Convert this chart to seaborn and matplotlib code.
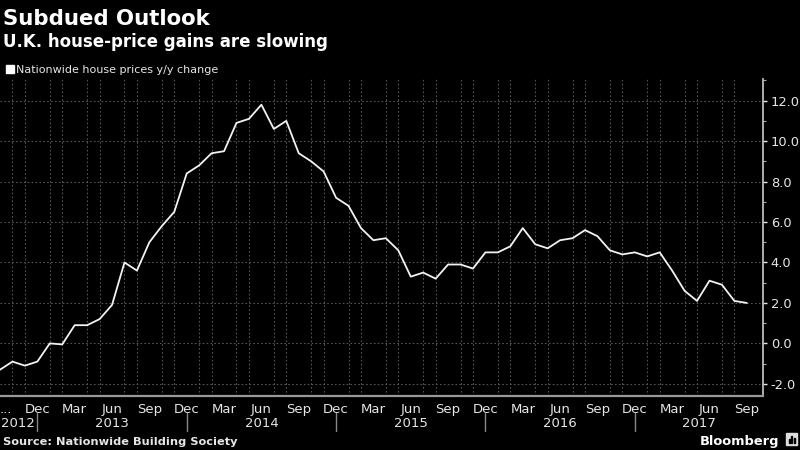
import numpy as np
import pandas as pd
import matplotlib
matplotlib.use("Agg")
import matplotlib.pyplot as plt
import matplotlib.transforms as mtransforms
from matplotlib.patches import Rectangle
import seaborn as sns

# Nationwide house prices, y/y % change, Sep 2012 .. Sep 2017
yoy_change = [
    -1.3, -0.9, -1.1, -0.9,                                            # 2012 Sep-Dec
    0.0, -0.05, 0.9, 0.9, 1.2, 1.9, 4.0, 3.6, 5.0, 5.8, 6.5, 8.4,      # 2013
    8.8, 9.4, 9.5, 10.9, 11.1, 11.8, 10.6, 11.0, 9.4, 9.0, 8.5, 7.2,   # 2014
    6.8, 5.7, 5.1, 5.2, 4.6, 3.3, 3.5, 3.2, 3.9, 3.9, 3.7, 4.5,        # 2015
    4.5, 4.8, 5.7, 4.9, 4.7, 5.1, 5.2, 5.6, 5.3, 4.6, 4.4, 4.5,        # 2016
    4.3, 4.5, 3.6, 2.6, 2.1, 3.1, 2.9, 2.1, 2.0,                       # 2017 Jan-Sep
]
month_labels = ["..."] + ["Dec", "Mar", "Jun", "Sep"] * 5
year_labels = ["2012", "2013", "2014", "2015", "2016", "2017"]

df = pd.DataFrame({"month": np.arange(len(yoy_change)), "value": yoy_change})

sns.set_style("dark")
plt.rcParams["font.family"] = ["DejaVu Sans"]

bg = "black"
fg = "#e6e6e6"
grid_c = "#555555"

fig = plt.figure(figsize=(8, 4.5), dpi=100, facecolor=bg)
ax = fig.add_axes([0.0, 1 - 396 / 450, 763 / 800, (396 - 79) / 450])
ax.set_facecolor(bg)

sns.lineplot(data=df, x="month", y="value", ax=ax, color="#f2f2f2", linewidth=1.3)

xmax = 61.3
ax.set_xlim(0, xmax)
ax.set_ylim(-2.6, 13.07)

# y axis on right
ax.yaxis.tick_right()
ax.set_yticks(np.arange(-2, 13, 2))
ax.set_yticklabels([f"{v:.1f}" for v in np.arange(-2, 13, 2)])
ax.set_yticks(np.arange(-2, 14, 1), minor=True)
ax.tick_params(axis="y", which="major", colors=fg, labelcolor=fg, labelsize=9.4,
               length=3, width=1, pad=2.5, direction="out")
ax.tick_params(axis="y", which="minor", colors="#aaaaaa", length=2, width=0.8)

# x axis ticks: every month, labels every 3 months
ax.set_xticks(np.arange(0, len(yoy_change), 3))
ax.set_xticklabels(month_labels)
ax.get_xticklabels()[0].set_horizontalalignment("left")
ax.set_xticks(np.arange(0, len(yoy_change)), minor=True)
ax.tick_params(axis="x", which="major", colors="#888888", labelcolor=fg, labelsize=9.5,
               length=3, width=0.8, pad=2)
ax.tick_params(axis="x", which="minor", colors="#888888", length=3, width=0.8)
ax.set_xlabel("")
ax.set_ylabel("")

# grid
ax.grid(False)
ax.yaxis.grid(True, which="major", color=grid_c, linestyle=(0, (1.5, 2)), linewidth=0.8)
ax.xaxis.grid(True, which="minor", color=grid_c, linestyle=(0, (1.5, 2)), linewidth=0.8)
ax.set_axisbelow(True)

for side in ["top", "left"]:
    ax.spines[side].set_visible(False)
ax.spines["right"].set_color("#cccccc")
ax.spines["bottom"].set_color("#999999")
ax.spines["right"].set_linewidth(1.2)
ax.spines["bottom"].set_linewidth(1.6)

# year labels and separators below the month labels
trans = mtransforms.blended_transform_factory(ax.transData, ax.transAxes)
dec_pos = [3, 15, 27, 39, 51]
bounds = [0] + dec_pos + [xmax]
for i, yr in enumerate(year_labels):
    if i == 0:
        ax.text(0.05, -0.099, yr, transform=trans, ha="left", va="baseline",
                color=fg, fontsize=9.5)
    else:
        ax.text((bounds[i] + bounds[i + 1]) / 2, -0.099, yr, transform=trans,
                ha="center", va="baseline", color=fg, fontsize=9.5)
for d in dec_pos:
    ax.plot([d, d], [-0.053, -0.11], transform=trans, color="#888888",
            linewidth=1, clip_on=False)

# last value marker
ax.annotate(f"{yoy_change[-1]:.1f}", xy=(1.0, yoy_change[-1]), xycoords=trans,
            xytext=(9, 0), textcoords="offset points", ha="left", va="center",
            fontsize=9.4, color="black", annotation_clip=False,
            bbox=dict(boxstyle="larrow,pad=0.25", fc="white", ec="white"))

# titles
fig.text(3 / 800, 1 - 25 / 450, "Subdued Outlook", color="white", fontsize=15.3,
         fontweight="bold", va="baseline", ha="left")
fig.text(3 / 800, 1 - 47 / 450, "U.K. house-price gains are slowing", color="white",
         fontsize=12, fontweight="bold", va="baseline", ha="left")
fig.patches.append(Rectangle((6 / 800, 1 - 73 / 450), 8 / 800, 8 / 450,
                             transform=fig.transFigure, color="white"))
fig.text(16 / 800, 1 - 73 / 450, "Nationwide house prices y/y change", color=fg,
         fontsize=8, va="baseline", ha="left")
fig.text(3 / 800, 1 - 445 / 450, "Source: Nationwide Building Society", color=fg,
         fontsize=8.2, fontweight="bold", va="baseline", ha="left")
fig.text(779 / 800, 1 - 445 / 450, "Bloomberg", color="white", fontsize=9.4,
         fontweight="bold", va="baseline", ha="right")
fig.patches.append(Rectangle((786 / 800, 1 - 445 / 450), 11 / 800, 12 / 450,
                             transform=fig.transFigure, color="#dddddd"))
for k, h in enumerate([4, 7, 5]):
    fig.patches.append(Rectangle(((788.5 + k * 2.5) / 800, 1 - 443 / 450), 1.4 / 800, h / 450,
                                 transform=fig.transFigure, color="black"))

fig.savefig("out.png", dpi=100, facecolor=bg)
